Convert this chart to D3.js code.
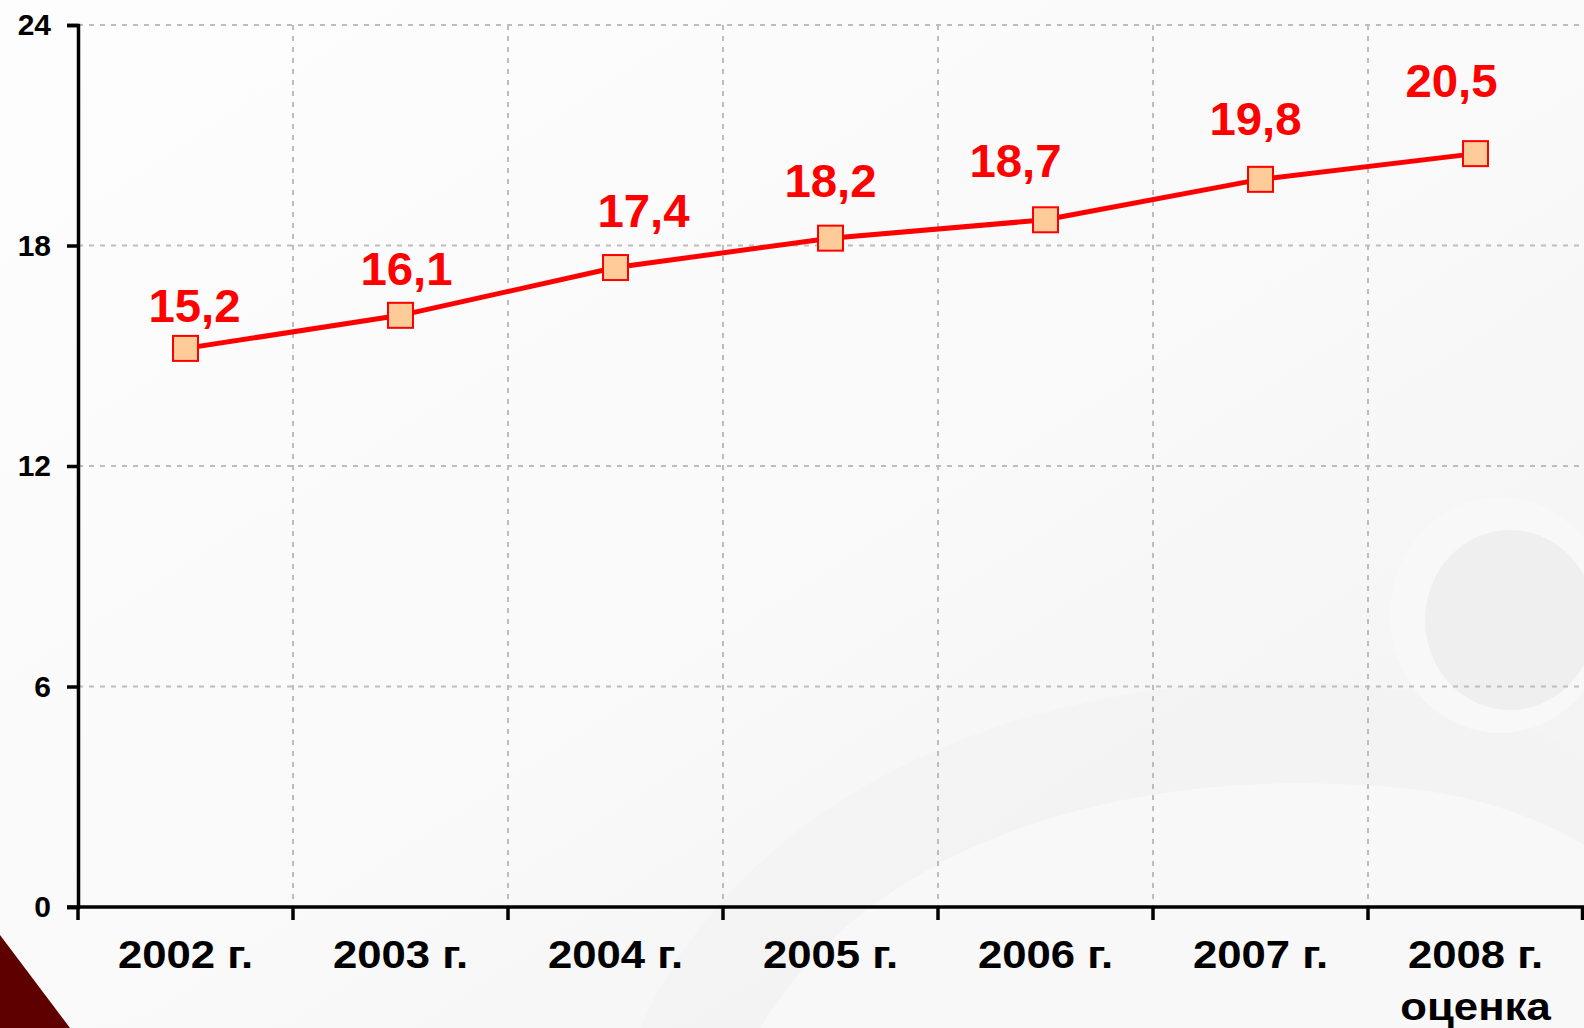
<!DOCTYPE html>
<html>
<head>
<meta charset="utf-8">
<script src="https://cdn.jsdelivr.net/npm/d3@7"></script>
<style>
  html, body { margin: 0; padding: 0; background: #fbfbfb; }
  svg { display: block; }
  text { font-family: "Liberation Sans", Arial, sans-serif; font-weight: bold; }
</style>
</head>
<body>
<svg id="chart" width="1584" height="1028"></svg>
<script>
// ---- data ----
const categories = ["2002 г.", "2003 г.", "2004 г.", "2005 г.", "2006 г.", "2007 г.", "2008 г.\nоценка"];
const values = [15.2, 16.1, 17.4, 18.2, 18.7, 19.8, 20.5];
const valueLabels = ["15,2", "16,1", "17,4", "18,2", "18,7", "19,8", "20,5"];
const yTicks = [0, 6, 12, 18, 24];

// ---- layout ----
const W = 1584, H = 1028;
const plot = { left: 78, right: 1583, top: 25, bottom: 907 };
const labelNudgeX = [9, 6, 28, 0, -30, -5, -24];
const labelNudgeY = [-26, -30, -41, -41, -43, -44, -57];

const svg = d3.select("#chart");

// background
const defs = svg.append("defs");
const bg = defs.append("linearGradient").attr("id", "bg").attr("x1", 0).attr("y1", 0).attr("x2", 1).attr("y2", 1);
bg.append("stop").attr("offset", "0%").attr("stop-color", "#fdfdfd");
bg.append("stop").attr("offset", "55%").attr("stop-color", "#f9f9f9");
bg.append("stop").attr("offset", "100%").attr("stop-color", "#f1f1f1");
svg.append("rect").attr("width", W).attr("height", H).attr("fill", "url(#bg)");

const deco = svg.append("g");
deco.append("path")
  .attr("d", "M640,1028 C760,760 1100,650 1400,690 C1500,705 1560,740 1584,760 L1584,1028 Z")
  .attr("fill", "#f3f3f3").attr("opacity", 0.8);
deco.append("path")
  .attr("d", "M760,1028 C880,830 1150,760 1420,790 C1500,800 1560,830 1584,845 L1584,1028 Z")
  .attr("fill", "#f8f8f8").attr("opacity", 0.9);
deco.append("ellipse").attr("cx", 1500).attr("cy", 615).attr("rx", 110).attr("ry", 118).attr("fill", "#f8f8f8");
deco.append("ellipse").attr("cx", 1510).attr("cy", 620).attr("rx", 85).attr("ry", 90).attr("fill", "#efefef");

svg.append("polygon").attr("points", "0,935 70,1028 0,1028").attr("fill", "#5e0000");

// scales
const x = d3.scaleBand().domain(categories).range([plot.left, plot.right]).padding(0);
const y = d3.scaleLinear().domain([0, 24]).range([plot.bottom, plot.top]);

// grid
const grid = svg.append("g");
grid.selectAll("line.h").data(yTicks.filter(d => d > 0)).join("line")
  .attr("x1", plot.left).attr("x2", W)
  .attr("y1", d => y(d)).attr("y2", d => y(d))
  .attr("stroke", "#bdbdbd").attr("stroke-width", 2).attr("stroke-dasharray", "5,6");
const boundaries = d3.range(1, categories.length).map(i => plot.left + i * x.step());
grid.selectAll("line.v").data(boundaries).join("line")
  .attr("x1", d => d).attr("x2", d => d)
  .attr("y1", plot.top).attr("y2", plot.bottom)
  .attr("stroke", "#bdbdbd").attr("stroke-width", 2).attr("stroke-dasharray", "5,6");

// y axis
const yAxis = svg.append("g").attr("transform", `translate(${plot.left},0)`)
  .call(d3.axisLeft(y).tickValues(yTicks).tickSize(11).tickPadding(16).tickFormat(d3.format("d")));
yAxis.select(".domain").attr("stroke", "#000").attr("stroke-width", 3.5);
yAxis.selectAll(".tick line").attr("stroke", "#000").attr("stroke-width", 3.5);
yAxis.selectAll(".tick text").attr("font-size", 30).attr("font-family", "Liberation Sans, Arial, sans-serif")
  .attr("font-weight", "bold").attr("fill", "#000");

// x axis
const xAxisG = svg.append("g");
xAxisG.append("line").attr("x1", plot.left - 11).attr("x2", W)
  .attr("y1", plot.bottom).attr("y2", plot.bottom)
  .attr("stroke", "#000").attr("stroke-width", 3.5);
const xTickPos = d3.range(0, categories.length + 1).map(i => Math.min(plot.left + i * x.step(), W - 1.5));
xAxisG.selectAll("line.t").data(xTickPos).join("line")
  .attr("x1", d => d).attr("x2", d => d)
  .attr("y1", plot.bottom).attr("y2", plot.bottom + 13)
  .attr("stroke", "#000").attr("stroke-width", 3.5);
const xl = xAxisG.selectAll("text.xl").data(categories).join("text")
  .attr("class", "xl")
  .attr("transform", d => `translate(${x(d) + x.bandwidth() / 2},968) scale(1.12,1)`)
  .attr("text-anchor", "middle").attr("font-size", 39).attr("fill", "#000");
xl.each(function(d) {
  const lines = d.split("\n");
  d3.select(this).selectAll("tspan").data(lines).join("tspan")
    .attr("x", 0).attr("dy", (l, i) => i === 0 ? 0 : 52).text(l => l);
});

// line
const cx = d => x(d) + x.bandwidth() / 2;
const line = d3.line().x((v, i) => cx(categories[i])).y(v => y(v));
svg.append("path").datum(values).attr("d", line)
  .attr("fill", "none").attr("stroke", "#ff0000").attr("stroke-width", 5).attr("stroke-linejoin", "round");

// markers
const ms = 25;
svg.selectAll("rect.m").data(values).join("rect")
  .attr("x", (v, i) => cx(categories[i]) - ms / 2)
  .attr("y", v => y(v) - ms / 2)
  .attr("width", ms).attr("height", ms)
  .attr("fill", "#ffcc99").attr("stroke", "#ff0000").attr("stroke-width", 2);

// labels
svg.selectAll("text.vl").data(values).join("text")
  .attr("class", "vl")
  .attr("transform", (v, i) => `translate(${cx(categories[i]) + labelNudgeX[i]},${y(v) + labelNudgeY[i]}) scale(1.03,1)`)
  .attr("text-anchor", "middle").attr("font-size", 46).attr("fill", "#ff0000")
  .text((v, i) => valueLabels[i]);
</script>
</body>
</html>
